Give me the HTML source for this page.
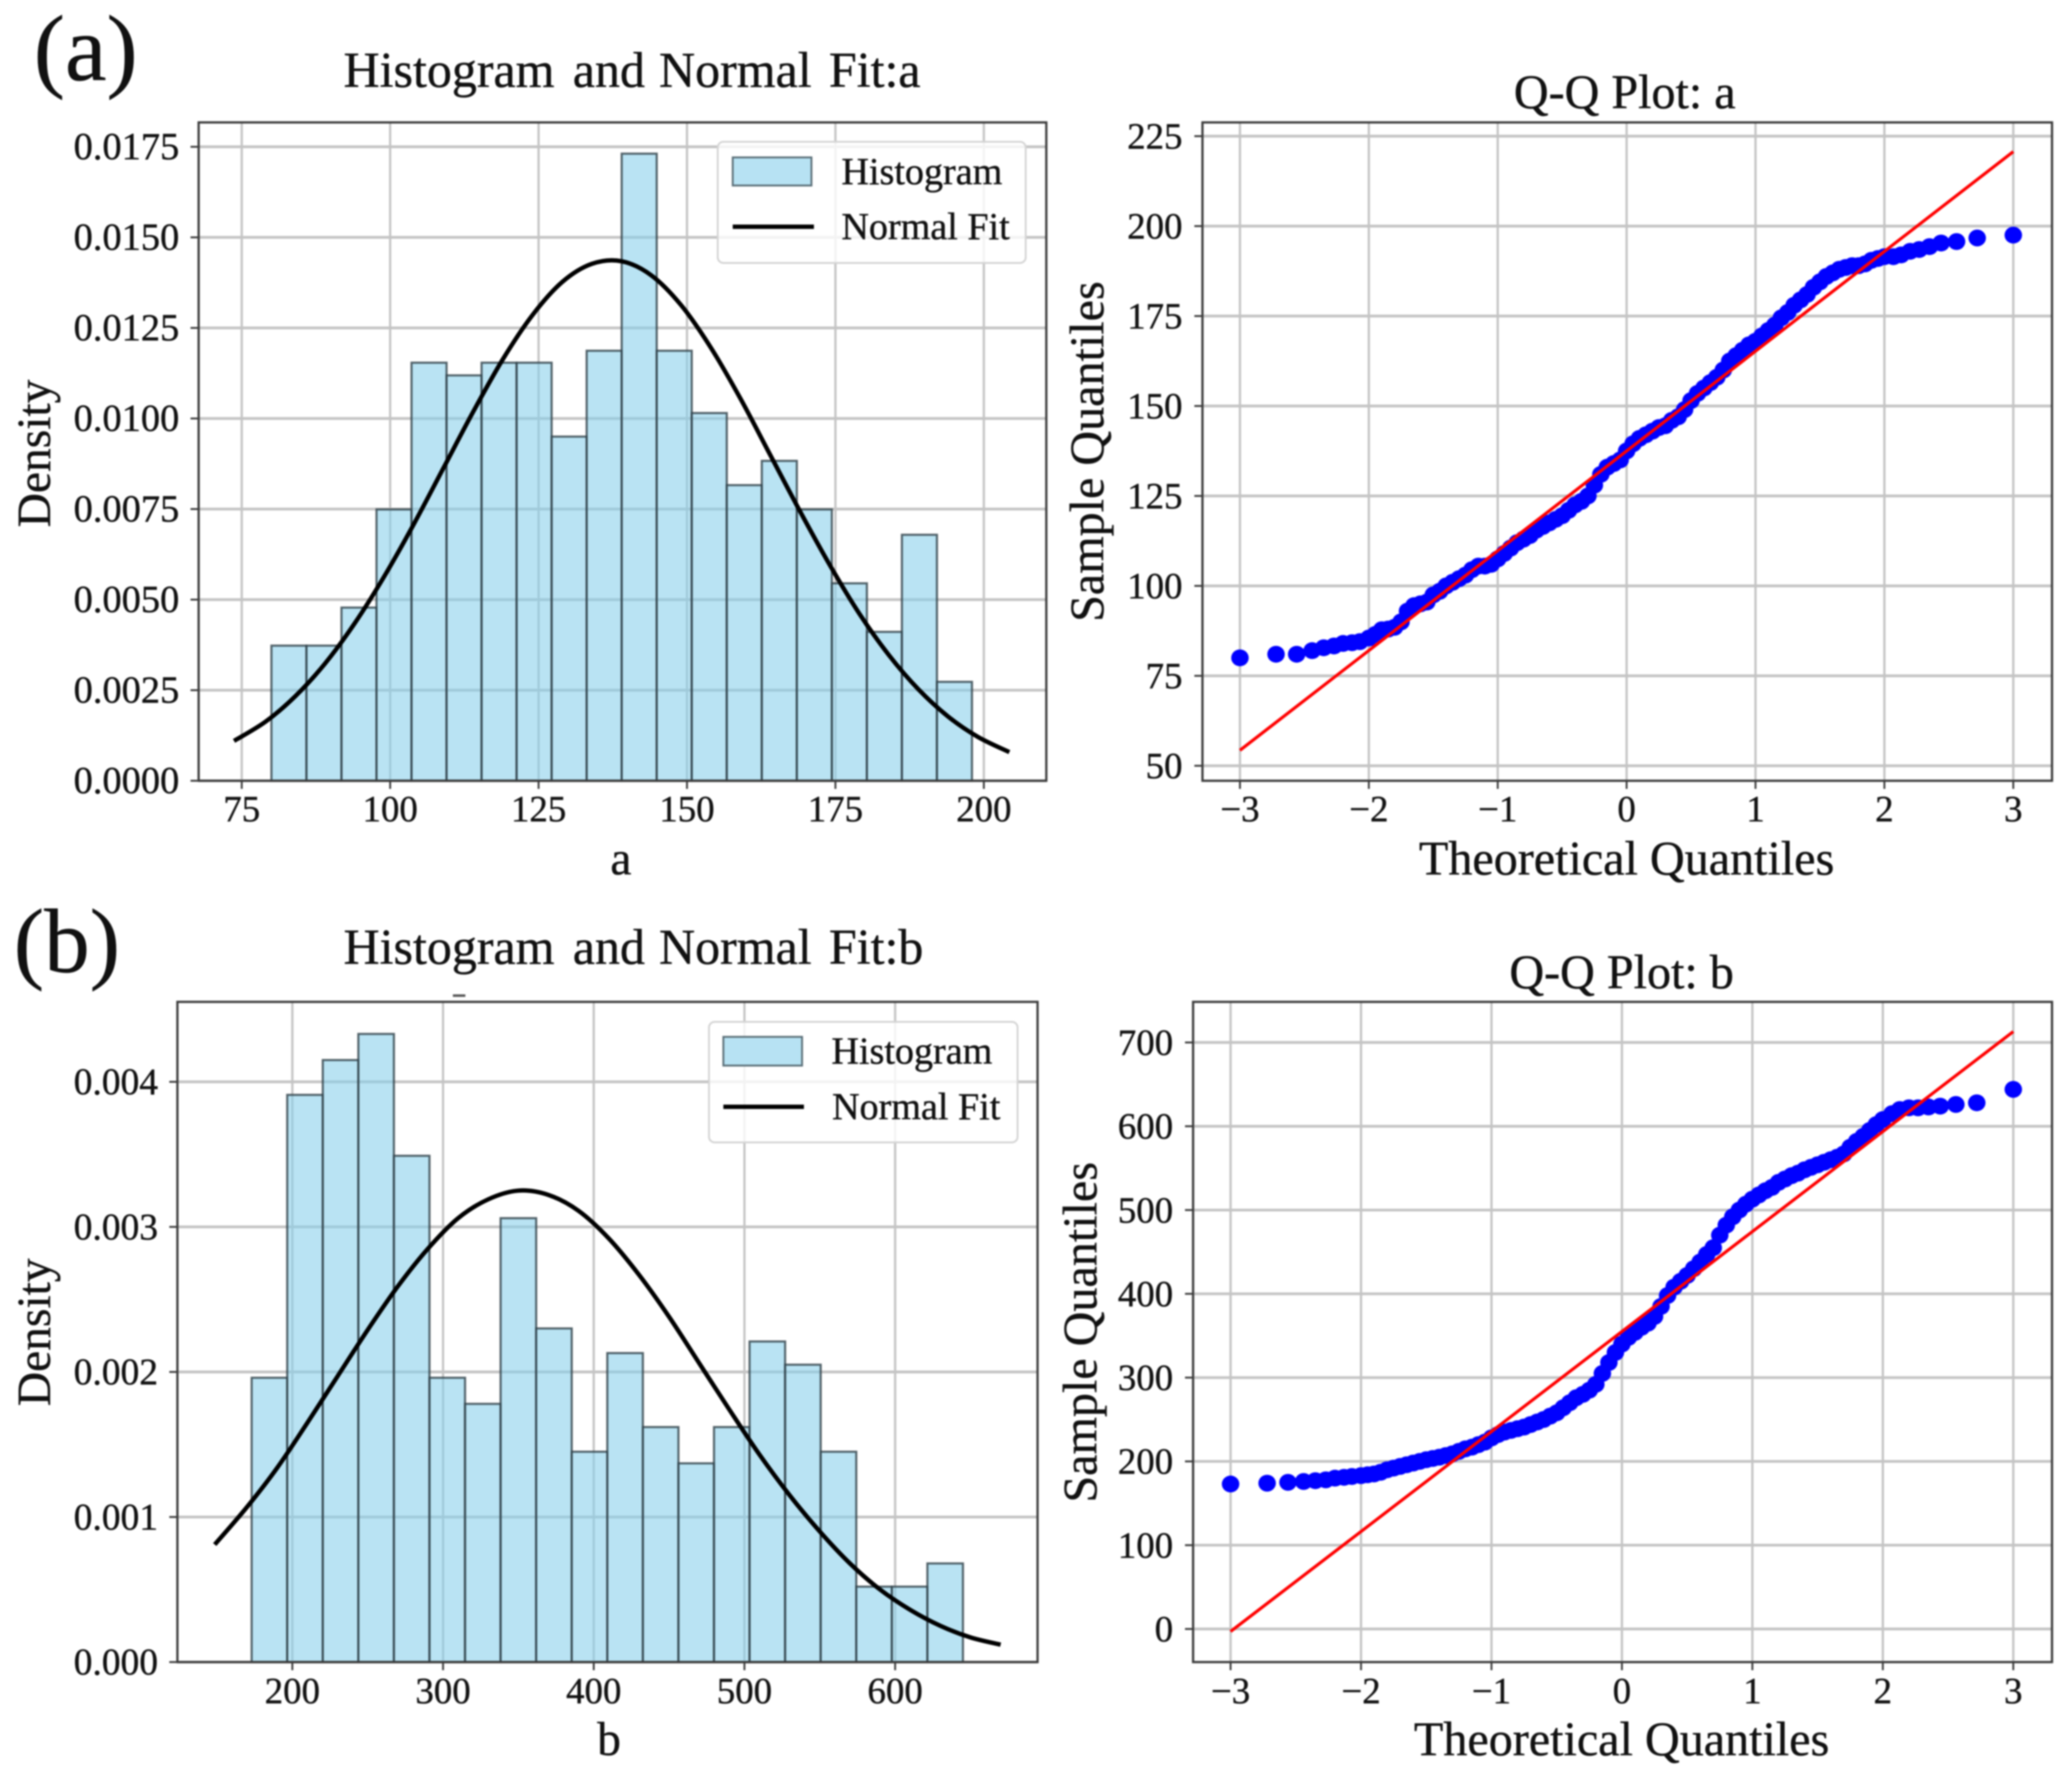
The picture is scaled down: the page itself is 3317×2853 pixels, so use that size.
<!DOCTYPE html>
<html lang="en">
<head>
<meta charset="utf-8">
<title>Histogram and Q-Q plots</title>
<style>
  html, body { margin: 0; padding: 0; background: #fff; width: 3317px; height: 2853px; overflow: hidden; }
  svg { display: block; filter: blur(1.3px); }
  text { font-family: "Liberation Serif", serif; fill: #111; stroke: #111; stroke-width: 0.6px; }
</style>
</head>
<body>
<svg id="figure" xmlns="http://www.w3.org/2000/svg" width="3317" height="2853" viewBox="0 0 3317 2853">
  <rect x="0" y="0" width="3317" height="2853" fill="#fff"/>

  <g id="plot-hist-a"></g>
  <g id="plot-qq-a"></g>
  <g id="plot-hist-b"></g>
  <g id="plot-qq-b"></g>

  <text x="54" y="128" font-size="150">(a)</text>
  <text x="22" y="1556" font-size="146">(b)</text>

  <text y="139" font-size="80"><tspan x="550">Histogram</tspan><tspan x="917">and</tspan><tspan x="1055">Normal</tspan><tspan x="1327">Fit:a</tspan></text>
  <text y="1543" font-size="80"><tspan x="550">Histogram</tspan><tspan x="917">and</tspan><tspan x="1055">Normal</tspan><tspan x="1327">Fit:b</tspan></text>
  <text x="2601" y="173" font-size="77" text-anchor="middle">Q-Q Plot: a</text>
  <text x="2596" y="1582" font-size="77" text-anchor="middle">Q-Q Plot: b</text>

  <text x="994" y="1400" font-size="76" text-anchor="middle">a</text>
  <text x="975" y="2810" font-size="76" text-anchor="middle">b</text>
  <text transform="translate(80 726) rotate(-90)" font-size="76" text-anchor="middle">Density</text>
  <text transform="translate(80 2133) rotate(-90)" font-size="76" text-anchor="middle">Density</text>
  <text transform="translate(1766 723) rotate(-90)" font-size="77" text-anchor="middle">Sample Quantiles</text>
  <text transform="translate(1755 2133) rotate(-90)" font-size="77" text-anchor="middle">Sample Quantiles</text>
  <text x="2604" y="1400" font-size="77" text-anchor="middle">Theoretical Quantiles</text>
  <text x="2596" y="2810" font-size="77" text-anchor="middle">Theoretical Quantiles</text>

  <rect x="725" y="1592" width="20" height="4" fill="#555"/>

  <g>
    <rect x="1149" y="227" width="493" height="194" rx="9" fill="#fff" fill-opacity="0.8" stroke="#d4d4d4" stroke-width="3"/>
    <rect x="1173" y="252" width="126" height="45" fill="#b7e2f3" stroke="#5b6f78" stroke-width="3"/>
    <line x1="1173" y1="363" x2="1303" y2="363" stroke="#000" stroke-width="7"/>
    <text x="1347" y="295" font-size="61">Histogram</text>
    <text x="1347" y="383" font-size="61">Normal Fit</text>
  </g>
  <g>
    <rect x="1135" y="1636" width="494" height="193" rx="9" fill="#fff" fill-opacity="0.8" stroke="#d4d4d4" stroke-width="3"/>
    <rect x="1158" y="1660" width="126" height="46" fill="#b7e2f3" stroke="#5b6f78" stroke-width="3"/>
    <line x1="1158" y1="1772" x2="1287" y2="1772" stroke="#000" stroke-width="7"/>
    <text x="1331" y="1703" font-size="61">Histogram</text>
    <text x="1332" y="1792" font-size="61">Normal Fit</text>
  </g>
</svg>

<script>
// ---------- Data: histogram a ----------
const histABinStart = 80;
const histABinWidth = 5.9;
const histADensity = [0.00373,0.00373,0.00478,0.00749,0.01154,0.01119,0.01154,0.01154,0.0095,0.01187,0.01731,0.01187,0.01015,0.00816,0.00883,0.00749,0.00545,0.00411,0.00679,0.00273];
const fitAX = [73.7,79,84,89,94,99,104,109,114,119,124,129,134,139,144,149,154,159,164,169,174,179,184,189,194,199,204.3];
const fitAY = [0.0011,0.00163,0.00233,0.00323,0.00434,0.00564,0.00709,0.00864,0.01019,0.01164,0.01286,0.01377,0.01427,0.01434,0.01395,0.01313,0.01196,0.01055,0.009,0.00745,0.00597,0.00462,0.00347,0.00252,0.00177,0.00121,0.00079];
const histAXTicks = ['75','100','125','150','175','200'];
const histAYTicks = ['0.0000','0.0025','0.0050','0.0075','0.0100','0.0125','0.0150','0.0175'];

// ---------- Data: histogram b ----------
const histBBinStart = 173;
const histBBinWidth = 23.6;
const histBDensity = [0.00196,0.00391,0.00415,0.00433,0.00349,0.00196,0.00178,0.00306,0.0023,0.00145,0.00213,0.00162,0.00137,0.00162,0.00221,0.00205,0.00145,0.00052,0.00052,0.00068];
const fitBX = [148.5,170,190,210,230,250,270,290,310,330,350,370,390,410,430,450,470,490,510,530,550,570,590,610,630,650,670];
const fitBY = [0.00081,0.00107,0.00134,0.00165,0.00197,0.00229,0.00259,0.00285,0.00306,0.00319,0.00325,0.00322,0.00311,0.00292,0.00267,0.00238,0.00206,0.00174,0.00143,0.00115,0.0009,0.00068,0.0005,0.00036,0.00025,0.00017,0.00012];
const histBXTicks = ['200','300','400','500','600'];
const histBYTicks = ['0.000','0.001','0.002','0.003','0.004'];

// ---------- Data: Q-Q plots ----------
const qqTheoretical = [
  -3,-2.72,-2.56,-2.44,-2.35,-2.27,-2.2,-2.13,-2.07,
  -2,-1.95,-1.9,-1.85,-1.8,-1.75,-1.7,-1.65,-1.6,-1.55,
  -1.5,-1.45,-1.4,-1.35,-1.3,-1.25,-1.2,-1.15,-1.1,-1.05,
  -1,-0.95,-0.9,-0.85,-0.8,-0.75,-0.7,-0.65,-0.6,-0.55,
  -0.5,-0.45,-0.4,-0.35,-0.3,-0.25,-0.2,-0.15,-0.1,-0.05,
  0,0.05,0.1,0.15,0.2,0.25,0.3,0.35,0.4,0.45,
  0.5,0.55,0.6,0.65,0.7,0.75,0.8,0.85,0.9,0.95,
  1,1.05,1.1,1.15,1.2,1.25,1.3,1.35,1.4,1.45,
  1.5,1.55,1.6,1.65,1.7,1.75,1.8,1.85,1.9,1.95,
  2,
  2.07,2.13,2.2,2.27,2.35,2.44,2.56,2.72,3
];
const qqASample = [
  80,81,81,82,82.8,83.3,84,84.2,84.5,
  85.5,86.5,87.8,88,88.5,90,93,94.5,95,95.5,
  97.5,98.5,100,101,102,103,104.5,105.5,105.5,106,
  107.5,109,110.5,112,113,114,115.5,116.5,117.5,118.5,
  119.5,121,122.5,123.5,125,128,131,133,134,135,
  137.5,139.5,141,142,143,144,144.5,146,147,149,
  151.5,153.5,155,156.5,158,160,162.5,164,165.5,167,
  168,169.5,171,172.5,174.5,176,178,179.5,181,183,
  184.5,186,187,188,188.5,189,189,189.5,190.5,191,
  191.5,
  191.5,192,193,193.5,194.3,195.3,195.7,196.7,197.5
];
const qqBSample = [
  173,174,175,176,177,178,180,181,182,
  183,184,185,187,190,192,194,196,198,200,
  202,203.5,205,207,209,212,215,217,220,223,
  228,232,235,237,239,241,244,247,250,254,
  258,264,270,276,280,285,292,305,318,330,
  340,348,354,360,365,373,385,398,408,415,
  422,430,438,447,455,470,482,492,500,507,
  513,518,523,527,533,537,541,544,548,551,
  554,557,560,563,567,575,582,588,595,602,
  608,
  615,620,622,622,623,624,626,628,644
];
const qqALineX = [-3,3];
const qqALineY = [54.3,220.7];
const qqBLineX = [-3,3];
const qqBLineY = [-3,713];
const qqXTicks = ['-3','-2','-1','0','1','2','3'];
const qqAYTicks = ['50','75','100','125','150','175','200','225'];
const qqBYTicks = ['0','100','200','300','400','500','600','700'];

// ---------- Helpers ----------
const NS = 'http://www.w3.org/2000/svg';
function svgEl(parent, tag, attrs) {
  const el = document.createElementNS(NS, tag);
  for (const k in attrs) el.setAttribute(k, attrs[k]);
  parent.appendChild(el);
  return el;
}
function linear(d0, d1, r0, r1) {
  return v => r0 + (v - d0) * (r1 - r0) / (d1 - d0);
}
function smoothPath(pts) {
  let d = 'M' + pts[0][0] + ' ' + pts[0][1];
  for (let i = 0; i < pts.length - 1; i++) {
    const p0 = pts[Math.max(i - 1, 0)], p1 = pts[i], p2 = pts[i + 1], p3 = pts[Math.min(i + 2, pts.length - 1)];
    const c1x = p1[0] + (p2[0] - p0[0]) / 6, c1y = p1[1] + (p2[1] - p0[1]) / 6;
    const c2x = p2[0] - (p3[0] - p1[0]) / 6, c2y = p2[1] - (p3[1] - p1[1]) / 6;
    d += ' C' + c1x + ' ' + c1y + ' ' + c2x + ' ' + c2y + ' ' + p2[0] + ' ' + p2[1];
  }
  return d;
}

function drawGridAndTicks(g, box, xScale, yScale, xTicks, yTicks) {
  xTicks.forEach(t => {
    const px = xScale(parseFloat(t));
    const grid = svgEl(g, 'line', {x1: px, x2: px, y1: box.top, y2: box.bottom, stroke: '#c4c4c4', 'stroke-width': 3.6});
    
    
  });
  yTicks.forEach(t => {
    const py = yScale(parseFloat(t));
    const grid = svgEl(g, 'line', {x1: box.left, x2: box.right, y1: py, y2: py, stroke: '#c4c4c4', 'stroke-width': 4.4});
    
    
  });
}
function drawFrame(g, box, xScale, yScale, xTicks, yTicks, xLabelBaseline, yLabelRight, yFont) {
  const frame = svgEl(g, 'rect', {x: box.left, y: box.top, width: box.right - box.left, height: box.bottom - box.top, fill: 'none', stroke: '#3c3c3c', 'stroke-width': 3.6});
  
  
  xTicks.forEach(t => {
    const px = xScale(parseFloat(t));
    const mark = svgEl(g, 'line', {x1: px, x2: px, y1: box.bottom, y2: box.bottom + 13, stroke: '#3c3c3c', 'stroke-width': 3});
    
    
    const label = svgEl(g, 'text', {x: px, y: xLabelBaseline, 'font-size': 59, 'text-anchor': 'middle'});
    label.textContent = t.replace('-', '\u2212');
    
    
  });
  yTicks.forEach(t => {
    const py = yScale(parseFloat(t));
    const mark = svgEl(g, 'line', {x1: box.left - 13, x2: box.left, y1: py, y2: py, stroke: '#3c3c3c', 'stroke-width': 3});
    
    
    const label = svgEl(g, 'text', {x: yLabelRight, y: py + 20, 'font-size': yFont, 'text-anchor': 'end'});
    label.textContent = t;
    
    
  });
}

function drawHistogram(id, box, xScale, yScale, xTicks, yTicks, binStart, binWidth, density, fitX, fitY, xLabelBaseline, yLabelRight, yFont) {
  const g = document.getElementById(id);
  drawGridAndTicks(g, box, xScale, yScale, xTicks, yTicks);
  density.forEach((v, i) => {
    const x0 = xScale(binStart + i * binWidth), x1 = xScale(binStart + (i + 1) * binWidth);
    const bar = svgEl(g, 'rect', {x: x0, y: yScale(v), width: x1 - x0, height: yScale(0) - yScale(v), fill: '#87ceeb', 'fill-opacity': 0.58, stroke: '#2e3f46', 'stroke-opacity': 0.8, 'stroke-width': 3.4});
    
    
  });
  const pts = fitX.map((x, i) => [xScale(x), yScale(fitY[i])]);
  const fit = svgEl(g, 'path', {d: smoothPath(pts), fill: 'none', stroke: '#000', 'stroke-width': 7});
  
  
  drawFrame(g, box, xScale, yScale, xTicks, yTicks, xLabelBaseline, yLabelRight, yFont);
}

function drawQQ(id, box, xScale, yScale, xTicks, yTicks, theoretical, sample, lineX, lineY, xLabelBaseline, yLabelRight, yFont) {
  const g = document.getElementById(id);
  drawGridAndTicks(g, box, xScale, yScale, xTicks, yTicks);
  theoretical.forEach((q, i) => {
    const dot = svgEl(g, 'ellipse', {cx: xScale(q), cy: yScale(sample[i]), rx: 14, ry: 13.5, fill: '#0000ff'});
    
    
  });
  const ref = svgEl(g, 'line', {x1: xScale(lineX[0]), y1: yScale(lineY[0]), x2: xScale(lineX[1]), y2: yScale(lineY[1]), stroke: '#ff0000', 'stroke-width': 5});
  
  
  drawFrame(g, box, xScale, yScale, xTicks, yTicks, xLabelBaseline, yLabelRight, yFont);
}

// ---------- Panels ----------
drawHistogram('plot-hist-a', {left: 318, right: 1675, top: 196, bottom: 1250},
  linear(75, 200, 387, 1575), linear(0, 0.0175, 1250, 235),
  histAXTicks, histAYTicks, histABinStart, histABinWidth, histADensity, fitAX, fitAY, 1315, 287, 61.5);

drawQQ('plot-qq-a', {left: 1925, right: 3285, top: 196, bottom: 1250},
  linear(-3, 3, 1985, 3223), linear(50, 225, 1226, 218),
  qqXTicks, qqAYTicks, qqTheoretical, qqASample, qqALineX, qqALineY, 1315, 1893, 59);

drawHistogram('plot-hist-b', {left: 284, right: 1661, top: 1604, bottom: 2661},
  linear(200, 600, 468, 1433), linear(0, 0.004, 2661, 1732),
  histBXTicks, histBYTicks, histBBinStart, histBBinWidth, histBDensity, fitBX, fitBY, 2727, 253, 60);

drawQQ('plot-qq-b', {left: 1910, right: 3285, top: 1604, bottom: 2661},
  linear(-3, 3, 1970, 3223), linear(0, 700, 2608, 1669),
  qqXTicks, qqBYTicks, qqTheoretical, qqBSample, qqBLineX, qqBLineY, 2727, 1878, 59);
</script>
</body>
</html>
